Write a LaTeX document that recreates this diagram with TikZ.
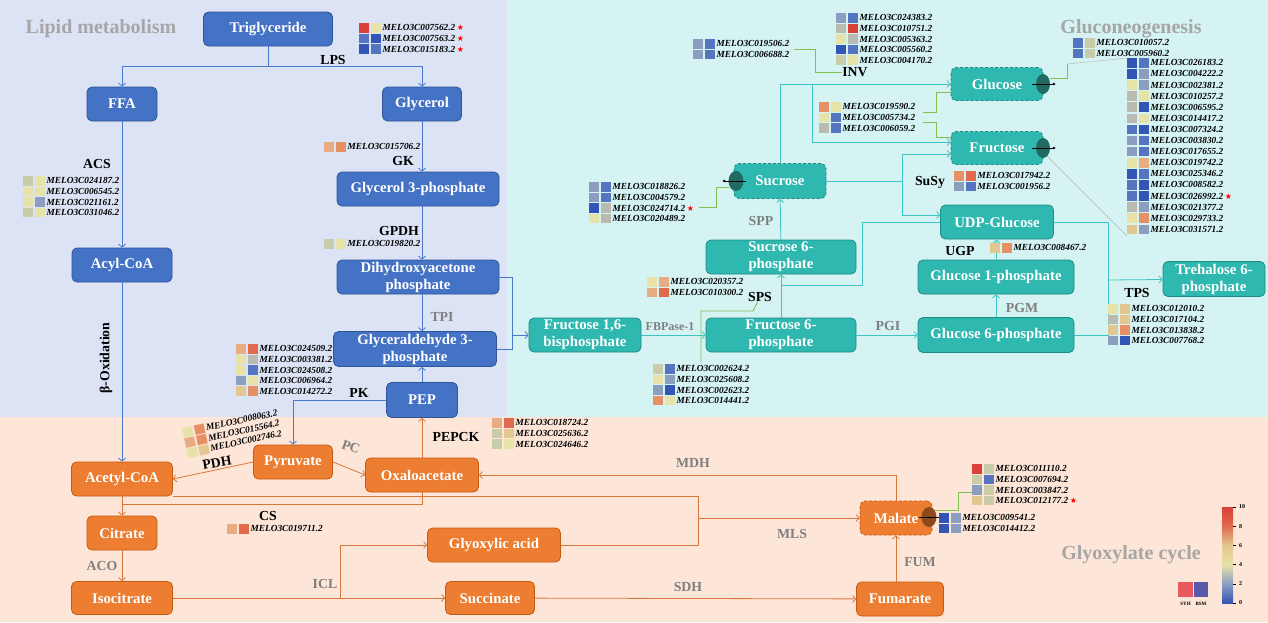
\documentclass[tikz,border=0pt]{standalone}
\usepackage{fontspec}
\setmainfont{Liberation Serif}
\newfontfamily\symfont{DejaVu Sans}
\usetikzlibrary{arrows.meta}

% Farben Bereiche
\definecolor{lipidbg}{HTML}{DCE3F4}
\definecolor{glucobg}{HTML}{D5F3F3}
\definecolor{glyoxbg}{HTML}{FDE5D8}
\definecolor{lipidfill}{HTML}{4472C4}
\definecolor{lipiddraw}{HTML}{2F5597}
\definecolor{glucofill}{HTML}{2EB8B0}
\definecolor{glucodraw}{HTML}{1D8A84}
\definecolor{glyoxfill}{HTML}{ED7D31}
\definecolor{glyoxdraw}{HTML}{C55A11}
\definecolor{lipidline}{HTML}{4A78CC}
\definecolor{glucoline}{HTML}{3EC4C4}
\definecolor{glyoxline}{HTML}{D9773A}
\definecolor{geneline}{HTML}{80C050}
\definecolor{titlegrey}{HTML}{A6A6A6}
\definecolor{enzgrey}{HTML}{7F7F7F}
\definecolor{tportsugar}{HTML}{1F6B62}
\definecolor{tportmal}{HTML}{8E4A1A}
% Heatmap
\definecolor{hDB}{HTML}{3355B5}
\definecolor{hMB}{HTML}{5575C0}
\definecolor{hGB}{HTML}{8C9EC0}
\definecolor{hGR}{HTML}{B9BAB0}
\definecolor{hGG}{HTML}{C8CCA8}
\definecolor{hLY}{HTML}{E6E2A8}
\definecolor{hTN}{HTML}{E2C890}
\definecolor{hTO}{HTML}{E8AC80}
\definecolor{hOR}{HTML}{E59065}
\definecolor{hRO}{HTML}{E06A4E}
\definecolor{hRD}{HTML}{D84038}
\definecolor{syhcol}{HTML}{E85A5E}
\definecolor{bsmcol}{HTML}{5A58A8}

\pgfdeclareverticalshading{heatbar}{100bp}{color(0bp)=(hDB); color(25bp)=(hDB);
  color(35bp)=(hGB); color(45bp)=(hLY); color(55bp)=(hTN); color(65bp)=(hRO);
  color(75bp)=(hRD); color(100bp)=(hRD)}

\newcommand\nodefont{\fontsize{14.8}{17}\selectfont\bfseries}
\newcommand\enzfont{\fontsize{13.8}{15}\selectfont\bfseries}
\newcommand\genefont{\fontsize{9.3}{9.3}\selectfont\bfseries\itshape}
\newcommand\titlefont{\fontsize{20}{22}\selectfont\bfseries}
\newcommand\rstar{\,{\symfont\color{red}\fontsize{8}{8}\selectfont ★}}

% Genliste: [Zeilenabstand]{Name}{x}{y}{Farbe1/Farbe2/Gen,...}
\newcommand{\genelist}[5][10.6]{%
  \foreach \ca/\cb/\gname [count=\gi from 0] in {#5} {
    \fill[fill=\ca] ({#3},{#4+\gi*#1}) rectangle ++(10,9.6);
    \fill[fill=\cb] ({#3+12},{#4+\gi*#1}) rectangle ++(10,9.6);
    \node[genetext] (#2-\gi) at ({#3+23.5},{#4+\gi*#1+4.8}) {\gname};
  }%
}

\begin{document}
\begin{tikzpicture}[x=1pt,y=-1pt,
    met/.style={rounded corners=5pt, text=white, font=\nodefont, align=center, inner sep=1pt, line width=0.8pt},
    lipid/.style={met, fill=lipidfill, draw=lipiddraw},
    sugar/.style={met, fill=glucofill, draw=glucodraw},
    glyox/.style={met, fill=glyoxfill, draw=glyoxdraw},
    pool/.style={dash pattern=on 3pt off 2pt},
    sz/.style 2 args={minimum width=#1pt, minimum height=#2pt},
    enz/.style={font=\enzfont, inner sep=0pt},
    enzg/.style={enz, text=enzgrey},
    title/.style={font=\titlefont, text=titlegrey},
    genetext/.style={anchor=west, font=\genefont, inner sep=0pt},
    lline/.style={draw=lipidline, line width=0.8pt},
    larr/.style={lline, -{Straight Barb[length=3pt,width=7pt]}},
    gline/.style={draw=glucoline, line width=0.8pt},
    garr/.style={gline, -{Straight Barb[length=3pt,width=7pt]}},
    oline/.style={draw=glyoxline, line width=0.8pt},
    oarr/.style={oline, -{Straight Barb[length=3pt,width=7pt]}},
    geneln/.style={draw=geneline, line width=0.9pt},
    callout/.style={draw=gray!60, line width=0.4pt},
    tparr/.style={black, line width=0.7pt, -{Latex[length=3pt,width=3pt]}}]
\useasboundingbox (0,0) rectangle (1268,622);

% Hintergrund
\fill[lipidbg] (0,0) rectangle (507,417);
\fill[glucobg] (507,0) rectangle (1268,417);
\fill[glyoxbg] (0,417) rectangle (1268,622);

% Titel
\node[title] (tlipid) at (101,29) {Lipid metabolism};
\node[title] (tgluc) at (1131,29) {Gluconeogenesis};
\node[title] (tglyox) at (1131,555) {Glyoxylate cycle};

% Stoffe Lipid
\node[lipid, sz={129}{34}] (tg) at (268,29) {Triglyceride};
\node[lipid, sz={70}{34}] (ffa) at (122,104) {FFA};
\node[lipid, sz={79}{34}] (gly) at (422,104) {Glycerol};
\node[lipid, sz={162}{34}] (g3p) at (418,189) {Glycerol 3-phosphate};
\node[lipid, sz={100}{34}] (acyl) at (122,265) {Acyl-CoA};
\node[lipid, sz={162}{34}] (dhap) at (418,277) {Dihydroxyacetone\\phosphate};
\node[lipid, sz={163}{35}] (ga3p) at (415,349) {Glyceraldehyde 3-\\phosphate};
\node[lipid, sz={71}{35}] (pep) at (422,400) {PEP};

% Stoffe Glyoxylat
\node[glyox, sz={79}{34}] (pyr) at (293,462) {Pyruvate};
\node[glyox, sz={101}{34}] (acet) at (122,479) {Acetyl-CoA};
\node[glyox, sz={113}{34}] (oaa) at (422,475) {Oxaloacetate};
\node[glyox, sz={70}{34}] (cit) at (122,533) {Citrate};
\node[glyox, sz={101}{33}] (iso) at (122,598) {Isocitrate};
\node[glyox, sz={133}{34}] (gxa) at (494,545) {Glyoxylic acid};
\node[glyox, sz={89}{33}] (succ) at (490,598) {Succinate};
\node[glyox, pool, sz={72}{34}] (mal) at (896,518) {Malate};
\node[glyox, sz={87}{34}] (fum) at (900,599) {Fumarate};

% Stoffe Zucker
\node[sugar, pool, sz={92}{35}] (suc) at (780,181) {Sucrose};
\node[sugar, pool, sz={92}{33}] (glc) at (997,84) {Glucose};
\node[sugar, pool, sz={92}{33}] (fru) at (997,148) {Fructose};
\node[sugar, sz={113}{34}] (udpg) at (997,222) {UDP-Glucose};
\node[sugar, sz={150}{34}] (s6p) at (781,257) {Sucrose 6-\\phosphate};
\node[sugar, sz={156}{34}] (g1p) at (996,277) {Glucose 1-phosphate};
\node[sugar, sz={112}{34}] (fbp) at (585,335) {Fructose 1,6-\\bisphosphate};
\node[sugar, sz={150}{34}] (f6p) at (781,335) {Fructose 6-\\phosphate};
\node[sugar, sz={156}{35}] (g6p) at (996,335) {Glucose 6-phosphate};
\node[sugar, sz={102}{35}] (tre) at (1214,279) {Trehalose 6-\\phosphate};

% Enzyme
\node[enz] (lps) at (333,60) {LPS};
\node[enz] (acs) at (97,164) {ACS};
\node[enz] (gk) at (403,161) {GK};
\node[enz] (gpdh) at (399,231) {GPDH};
\node[enzg] (tpi) at (442,317) {TPI};
\node[enz] (pk) at (359,393) {PK};
\node[enz, rotate=90] (boxi) at (106,358) {β-Oxidation};
\node[enz, rotate=10] (pdh) at (217,463) {PDH};
\node[enzg, rotate=-20] (pc) at (351,447) {PC};
\node[enz] (pepck) at (456,437) {PEPCK};
\node[enz] (cs) at (268,516) {CS};
\node[enzg] (aco) at (102,566) {ACO};
\node[enzg] (icl) at (325,584) {ICL};
\node[enzg] (mdh) at (693,463) {MDH};
\node[enzg] (mls) at (792,534) {MLS};
\node[enzg] (sdh) at (688,587) {SDH};
\node[enzg] (fumase) at (920,562) {FUM};
\node[enz] (inv) at (855,72) {INV};
\node[enzg] (spp) at (761,221) {SPP};
\node[enz] (sps) at (760,297) {SPS};
\node[enzg, font=\fontsize{12}{13}\selectfont\bfseries] (fbpase) at (670,327) {FBPase-1};
\node[enzg] (pgi) at (888,326) {PGI};
\node[enzg] (pgm) at (1022,308) {PGM};
\node[enz] (ugp) at (960,251) {UGP};
\node[enz] (susy) at (930,182) {SuSy};
\node[enz] (tps) at (1137,293) {TPS};

% Verbindungen Lipid
\coordinate (lpsj) at (268,66);
\draw[lline] (tg) -- (lpsj);
\draw[larr] (lpsj) -| (ffa);
\draw[larr] (lpsj) -| (gly);
\draw[larr] (ffa) -- (acyl);
\draw[larr] (gly) -- (gly |- g3p.north);
\draw[larr] (gly |- g3p.south) -- (gly |- dhap.north);
\draw[larr] (gly |- dhap.south) -- (gly |- ga3p.north);
\draw[larr] (pep) -- (pep |- ga3p.south);
\draw[larr] (pep.west) -| (pyr);
\draw[larr] (acyl) -- (acet);
\coordinate (trij) at (512,335);
\draw[lline] (dhap.east) -| (trij);
\draw[lline] (ga3p.east) -| (trij);
\draw[larr] (trij) -- (fbp);

% Verbindungen Glyoxylat
\draw[oarr] (pyr.west) -- (acet.east);
\draw[oarr] (pyr.east) -- (oaa.west);
\draw[oarr] (oaa) -- (pep);
\draw[oarr] (mal.north) |- (oaa.east);
\coordinate (csj) at (122,504);
\draw[oline] (oaa.south) |- (csj);
\draw[oarr] (acet) -- (cit);
\coordinate (mlsj) at (698,518);
\draw[oline] (acet.south east) -| (mlsj);
\draw[oline] (gxa.east) -| (mlsj);
\draw[oarr] (mlsj) -- (mal);
\draw[oarr] (cit) -- (iso);
\coordinate (iclj) at (340,598);
\draw[oarr] (iso) -- (succ);
\draw[oarr] (iclj) |- (gxa);
\draw[oarr] (succ) -- (fum);
\draw[oarr] (fum.north -| mal) -- (mal);

% Verbindungen Zucker
\draw[garr] (fbp) -- (f6p);
\draw[garr] (f6p) -- (g6p);
\draw[garr] (g6p) -- (g1p);
\draw[garr] (g1p) -- (udpg);
\draw[garr] (f6p) -- (s6p);
\draw[garr] (s6p) -- (suc);
\coordinate (spsj) at (781,285);
\coordinate (udpk) at (862,285);
\draw[gline] (udpg.west) -| (udpk) -- (spsj);
\coordinate (invk) at (812,84);
\draw[garr] (suc.north) |- (glc.west);
\draw[garr] (invk) |- ([yshift=6pt]fru.west);
\coordinate (susyj) at (902,181);
\draw[gline] (suc) -- (susyj);
\draw[garr] (susyj) |- ([yshift=-6pt]fru.west);
\draw[garr] (susyj) |- ([yshift=7pt]udpg.west);
\coordinate (tpsj) at (1108,280);
\draw[gline] (udpg.east) -| (tpsj);
\draw[gline] (g6p.east) -| (tpsj);
\draw[garr] (tpsj) -- (tre);

% Gen-Verbindungen
\draw[geneln] (794,49) -| (815,72) -- (inv);
\draw[geneln] (923,112) -| (936,92) -- (951,92);
\draw[geneln] (923,122) -| (936,137) -- (951,137);
\draw[geneln] (699,207) -| (716,187) -- (729,187);
\draw[geneln] (1050,78) -| (1067,64);
\draw[callout] (1067,64) -- (1127,58);
\draw[callout] (1047,156) -- (1127,236);
\draw[geneln] (701,362) |- (753,311) -- (sps);
\draw[geneln] (935,510) -| (958,492) -- (972,492);

% Transporter
\fill[tportsugar] (736,181) ellipse (7.5pt and 10pt);
\draw[tparr] (746,181) -- (722,181);
\fill[tportsugar] (1043,84) ellipse (7pt and 10pt);
\draw[tparr] (1032,84) -- (1056,84);
\fill[tportsugar] (1043,148) ellipse (7pt and 10pt);
\draw[tparr] (1032,148) -- (1056,148);
\fill[tportmal] (929,517) ellipse (7.5pt and 10pt);
\draw[black, line width=0.7pt] (919,517) -- (943,517);

% Genlisten
\genelist{lpsg}{359}{23}{hRD/hLY/MELO3C007562.2\rstar, hMB/hDB/MELO3C007563.2\rstar, hDB/hMB/MELO3C015183.2\rstar}
\genelist{gkg}{324}{142}{hTO/hOR/MELO3C015706.2}
\genelist{acsg}{23}{176}{hGG/hLY/MELO3C024187.2, hLY/hLY/MELO3C006545.2, hLY/hGB/MELO3C021161.2, hGG/hLY/MELO3C031046.2}
\genelist{gpdhg}{324}{239}{hGG/hLY/MELO3C019820.2}
\genelist{pkg}{236}{344}{hTO/hRO/MELO3C024509.2, hLY/hGR/MELO3C003381.2, hLY/hMB/MELO3C024508.2, hGB/hLY/MELO3C006964.2, hTN/hOR/MELO3C014272.2}
\begin{scope}[shift={(182,428)}, rotate=12, transform shape]
\genelist{pdhg}{0}{0}{hLY/hOR/MELO3C008063.2, hTO/hOR/MELO3C015564.2, hLY/hTN/MELO3C002746.2}
\end{scope}
\genelist{csg}{227}{524}{hTO/hRO/MELO3C019711.2}
\genelist{pepckg}{492}{418}{hTO/hRO/MELO3C018724.2, hGG/hTN/MELO3C025636.2, hGG/hLY/MELO3C024646.2}
\genelist{invg}{693}{39}{hGB/hMB/MELO3C019506.2, hGB/hMB/MELO3C006688.2}
\genelist{invh}{836}{13}{hGB/hMB/MELO3C024383.2, hGR/hRD/MELO3C010751.2, hLY/hGR/MELO3C005363.2, hDB/hMB/MELO3C005560.2, hGG/hLY/MELO3C004170.2}
\genelist{hexg}{819}{102}{hOR/hLY/MELO3C019590.2, hLY/hMB/MELO3C005734.2, hGR/hMB/MELO3C006059.2}
\genelist{susyg}{954}{171}{hOR/hRO/MELO3C017942.2, hGB/hMB/MELO3C001956.2}
\genelist{ugpg}{990}{243}{hTN/hOR/MELO3C008467.2}
\genelist{sucg}{589}{182}{hGB/hMB/MELO3C018826.2, hGB/hMB/MELO3C004579.2, hDB/hGR/MELO3C024714.2\rstar, hLY/hGR/MELO3C020489.2}
\genelist{spsg}{647}{277}{hLY/hTO/MELO3C020357.2, hTO/hRO/MELO3C010300.2}
\genelist{fbpg}{653}{364}{hGG/hMB/MELO3C002624.2, hLY/hGB/MELO3C025608.2, hGB/hDB/MELO3C002623.2, hOR/hLY/MELO3C014441.2}
\genelist{tpsg}{1108}{304}{hLY/hTN/MELO3C012010.2, hGR/hTN/MELO3C017104.2, hTN/hOR/MELO3C013838.2, hGB/hDB/MELO3C007768.2}
\genelist{glcg}{1073}{38}{hMB/hGG/MELO3C010057.2, hMB/hGG/MELO3C005960.2}
\genelist[11.1]{stpg}{1127}{58}{hDB/hMB/MELO3C026183.2, hDB/hGB/MELO3C004222.2, hLY/hGB/MELO3C002381.2, hGR/hLY/MELO3C010257.2, hGR/hDB/MELO3C006595.2, hGR/hLY/MELO3C014417.2, hMB/hDB/MELO3C007324.2, hGB/hMB/MELO3C003830.2, hGB/hMB/MELO3C017655.2, hLY/hTO/MELO3C019742.2, hDB/hMB/MELO3C025346.2, hMB/hDB/MELO3C008582.2, hMB/hDB/MELO3C026992.2\rstar, hGR/hGB/MELO3C021377.2, hLY/hOR/MELO3C029733.2, hTN/hGB/MELO3C031571.2}
\genelist{malg}{972}{464}{hRD/hGG/MELO3C011110.2, hGG/hMB/MELO3C007694.2, hGB/hGG/MELO3C003847.2, hTN/hGG/MELO3C012177.2\rstar}
\genelist{malh}{939}{513}{hDB/hGB/MELO3C009541.2, hDB/hGB/MELO3C014412.2}

% Farbskala
\shade[shading=heatbar] (1222,507) rectangle (1233,603);
\foreach \v [count=\k from 0] in {0,2,...,10} {
  \draw[black, line width=0.4pt] (1233,{603-\k*19.2}) -- (1236,{603-\k*19.2});
  \node[anchor=west, inner sep=0pt, font=\fontsize{6}{7}\selectfont\bfseries] (tick-\k) at (1239,{603-\k*19.2}) {\v};
}
\fill[syhcol] (1178,582) rectangle (1193,597);
\fill[bsmcol] (1194,582) rectangle (1208,597);
\node[inner sep=0pt, font=\fontsize{5}{6}\selectfont\bfseries] (syh) at (1185.5,603.5) {SYH};
\node[inner sep=0pt, font=\fontsize{5}{6}\selectfont\bfseries] (bsm) at (1201,603.5) {BSM};
\end{tikzpicture}
\end{document}
